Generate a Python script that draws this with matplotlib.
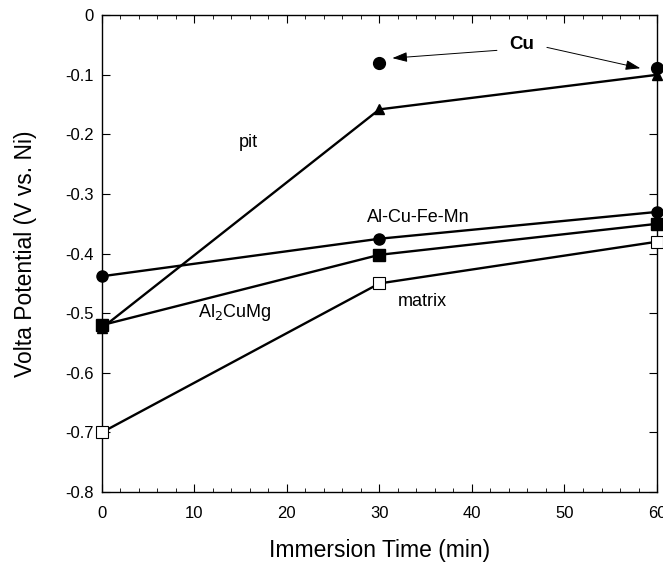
import matplotlib
matplotlib.use("Agg")
import matplotlib.pyplot as plt
from matplotlib.ticker import MultipleLocator

plt.rcParams['font.family'] = ['Liberation Sans', 'DejaVu Sans']

time = [0, 30, 60]
pit = [-0.525, -0.158, -0.100]
al_cu_fe_mn = [-0.438, -0.375, -0.330]
al2cumg = [-0.520, -0.402, -0.350]
matrix = [-0.700, -0.450, -0.380]
cu_time = [30, 60]
cu = [-0.080, -0.089]

fig = plt.figure(figsize=(6.63, 5.63), dpi=100)
ax = fig.add_axes([0.1535, 0.126, 0.8375, 0.847])

kw = dict(color='black', lw=1.7, clip_on=False, zorder=3)
ax.plot(time, pit, marker='^', ms=7, **kw)
ax.plot(time, al_cu_fe_mn, marker='o', ms=8, **kw)
ax.plot(time, al2cumg, marker='s', ms=8, **kw)
ax.plot(time, matrix, marker='s', ms=8.5, mfc='white', mew=0.8, **kw)
ax.plot(cu_time, cu, linestyle='none', marker='o', ms=8.5, color='black',
        clip_on=False, zorder=4)

ax.set_xlim(0, 60)
ax.set_ylim(-0.8, 0)
ax.xaxis.set_major_locator(MultipleLocator(10))
ax.xaxis.set_minor_locator(MultipleLocator(2))
ax.set_yticks([0, -0.1, -0.2, -0.3, -0.4, -0.5, -0.6, -0.7, -0.8])
ax.set_yticklabels(['0', '-0.1', '-0.2', '-0.3', '-0.4', '-0.5', '-0.6', '-0.7', '-0.8'])
ax.tick_params(which='both', direction='in', top=True, right=True,
               labelsize=12, pad=6)
ax.tick_params(which='major', length=6, width=0.8)
ax.tick_params(which='minor', length=3, width=0.6)
ax.tick_params(axis='x', pad=10)
for s in ax.spines.values():
    s.set_linewidth(1.0)

ax.set_xlabel('Immersion Time (min)', fontsize=16.5, labelpad=13)
ax.set_ylabel('Volta Potential (V vs. Ni)', fontsize=16.5, labelpad=20)

tk = dict(fontsize=13, color='black')
ax.text(15.8, -0.213, 'pit', ha='center', va='center', **tk)
ax.text(34.2, -0.34, 'Al-Cu-Fe-Mn', ha='center', va='center', **tk)
ax.text(10.4, -0.498, r'Al$_2$CuMg', ha='left', va='center', **tk)
ax.text(32.0, -0.48, 'matrix', ha='left', va='center', **tk)
ax.text(45.4, -0.049, 'Cu', ha='center', va='center', fontsize=13.5,
        fontweight='bold')

arr = dict(arrowstyle='-|>,head_length=0.9,head_width=0.3', color='black',
           lw=0.7, shrinkA=0, shrinkB=0)
ax.annotate('', xy=(31.4, -0.072), xytext=(42.7, -0.059), arrowprops=arr)
ax.annotate('', xy=(58.2, -0.089), xytext=(48.1, -0.054), arrowprops=arr)

fig.savefig('out.png', dpi=100)
